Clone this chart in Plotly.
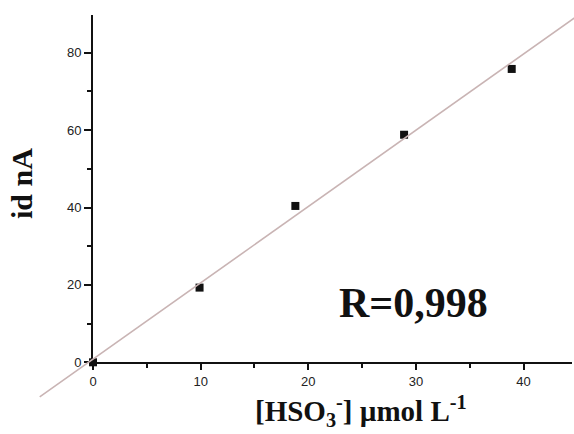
import numpy as np
import plotly.graph_objects as go

# Bisulfite calibration: concentration (µmol/L) vs diffusion current (nA)
conc = [0, 9.9, 18.8, 28.9, 38.9]
current = [0, 19.3, 40.4, 58.8, 75.8]
x_ticks = [0, 10, 20, 30, 40]
y_ticks = [0, 20, 40, 60, 80]
r_label = "R=0,998"

# Least-squares calibration line
slope, intercept = np.polyfit(conc, current, 1)
fit_x = np.array([-4.95, 46.0])
fit_y = slope * fit_x + intercept

W, H = 574, 434
# Plot box in pixels (left, right, bottom, top) and its data ranges
px_l, px_r, px_b, px_t = 93.0, 572.0, 362.3, 15.0
x_max = 44.5
kx = (px_r - px_l) / x_max
ky = 3.87
y_max = (px_b - px_t) / ky

# Second, invisible subplot spanning the full canvas at the same scale,
# so the fit line may run past the plot box as on the printed figure.
x2_range = [-px_l / kx, (W - px_l) / kx]
y2_range = [-(H - px_b) / ky, px_b / ky]

fig = go.Figure()

fig.add_trace(go.Scatter(
    x=fit_x, y=fit_y, mode="lines", xaxis="x2", yaxis="y2",
    line=dict(color="#c9b4b4", width=1.6), showlegend=False, hoverinfo="skip",
))

fig.add_trace(go.Scatter(
    x=conc, y=current, mode="markers",
    marker=dict(symbol="square", size=8, color="#111111"),
    cliponaxis=False, showlegend=False,
))

tick_font = dict(family="Liberation Sans, Arial", size=13, color="#222222")

fig.update_layout(
    width=W, height=H,
    margin=dict(l=0, r=0, t=0, b=0, autoexpand=False),
    paper_bgcolor="white", plot_bgcolor="rgba(0,0,0,0)",
    xaxis=dict(
        domain=[px_l / W, px_r / W], range=[0, x_max], automargin=False,
        tickvals=x_ticks, ticks="outside", ticklen=6, tickwidth=1.5, tickcolor="#111",
        showline=True, linewidth=2, linecolor="#111", showgrid=False, zeroline=False,
        tickfont=tick_font,
        minor=dict(ticks="outside", ticklen=4, tickwidth=1.5, tickcolor="#111", dtick=5, tick0=0),
    ),
    yaxis=dict(
        domain=[(H - px_b) / H, (H - px_t) / H], range=[0, y_max], automargin=False,
        tickvals=y_ticks, ticks="outside", ticklen=7, tickwidth=1.5, tickcolor="#111",
        showline=True, linewidth=2, linecolor="#111", showgrid=False, zeroline=False,
        tickfont=tick_font,
        minor=dict(ticks="outside", ticklen=4, tickwidth=1.5, tickcolor="#111", dtick=10, tick0=0),
    ),
    xaxis2=dict(domain=[0, 1], range=x2_range, anchor="y2", automargin=False,
                visible=False, showgrid=False, zeroline=False),
    yaxis2=dict(domain=[0, 1], range=y2_range, anchor="x2", automargin=False,
                visible=False, showgrid=False, zeroline=False),
    annotations=[
        dict(text="<b>" + r_label + "</b>", x=413 / W, y=1 - 303 / H,
             xref="paper", yref="paper",
             xanchor="center", yanchor="middle", showarrow=False,
             font=dict(family="Liberation Serif, Times New Roman", size=42, color="#111")),
        dict(text="<b>[HSO<sub>3</sub><sup>-</sup>] µmol L<sup>-1</sup></b>",
             x=361 / W, y=1 - 411 / H, xref="paper", yref="paper",
             xanchor="center", yanchor="middle", showarrow=False,
             font=dict(family="Liberation Serif, Times New Roman", size=29, color="#111")),
        dict(text="<b>id nA</b>", x=22 / W, y=1 - 184 / H, xref="paper", yref="paper",
             xanchor="center", yanchor="middle", showarrow=False, textangle=-90,
             font=dict(family="Liberation Serif, Times New Roman", size=30, color="#111")),
    ],
)

fig.write_html("out.html")
